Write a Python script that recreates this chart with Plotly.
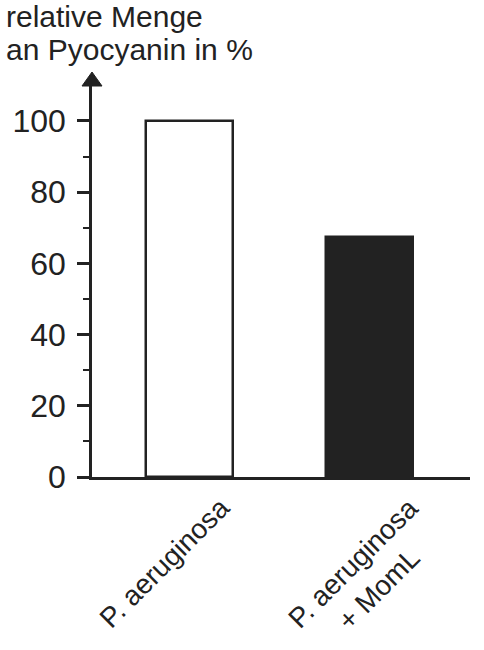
import plotly.graph_objects as go

categories = ["P. aeruginosa", "P. aeruginosa + MomL"]
label_texts = ["P. aeruginosa", "P. aeruginosa<br>+ MomL"]
values = [100, 67.5]
fill_colors = ["white", "#222222"]
y_tickvals = [0, 20, 40, 60, 80, 100]
y_ticktext = ["0", "20", "40", "60", "80", "100"]
title_lines = ["relative Menge", "an Pyocyanin in %"]

W, H = 484, 650
ML, MR, MT, MB = 92, 14, 86, 173
INK = "#222222"
FONT = "Liberation Sans, Arial, sans-serif"

fig = go.Figure()
fig.add_trace(go.Bar(
    x=categories, y=values,
    width=0.483,
    marker=dict(color=fill_colors, line=dict(color=INK, width=2.5)),
    showlegend=False,
))

fig.update_layout(
    width=W, height=H,
    margin=dict(l=ML, r=MR, t=MT, b=MB),
    paper_bgcolor="white", plot_bgcolor="white",
    font=dict(family=FONT, color=INK),
    bargap=0,
)
fig.update_xaxes(
    type="category", range=[-0.544, 1.556],
    showline=True, linecolor=INK, linewidth=2.5,
    showticklabels=False, ticks="", showgrid=False, zeroline=False,
)
fig.update_yaxes(
    range=[0, 109.8],
    showline=True, linecolor=INK, linewidth=2.5,
    tickmode="array", tickvals=y_tickvals, ticktext=y_ticktext,
    ticks="outside", ticklen=12, tickwidth=3, tickcolor=INK,
    ticklabelstandoff=5,
    tickfont=dict(size=32, color=INK, family=FONT),
    minor=dict(dtick=10, ticks="outside", ticklen=6, tickwidth=2, tickcolor=INK),
    showgrid=False, zeroline=False,
)

# axis arrowhead at the top of the y axis
ph = H - MT - MB
pw = W - ML - MR
hx = 10 / pw
hy = 14 / ph
fig.add_shape(type="path", xref="paper", yref="paper",
              path=f"M {-hx} 1 L {hx} 1 L 0 {1 + hy} Z",
              fillcolor=INK, line=dict(color=INK, width=1))

# rotated category labels
shifts = [49, 83]
for cat, txt, sh in zip(categories, label_texts, shifts):
    fig.add_annotation(x=cat, y=0, xref="x", yref="paper", text=txt,
                       showarrow=False, textangle=-45, align="center",
                       xanchor="right", yanchor="top", xshift=sh, yshift=-12,
                       font=dict(size=28, color=INK, family=FONT))

# axis title (two lines, tighter spacing)
for i, line in enumerate(title_lines):
    fig.add_annotation(x=0, y=1, xref="paper", yref="paper", text=line,
                       showarrow=False, align="left", xanchor="left", yanchor="top",
                       xshift=-ML + 4, yshift=MT + 2 - 33 * i,
                       font=dict(size=30, color=INK, family=FONT))

fig.write_html("out.html", config={"displayModeBar": False},
               post_script="document.body.style.margin='0px';")
